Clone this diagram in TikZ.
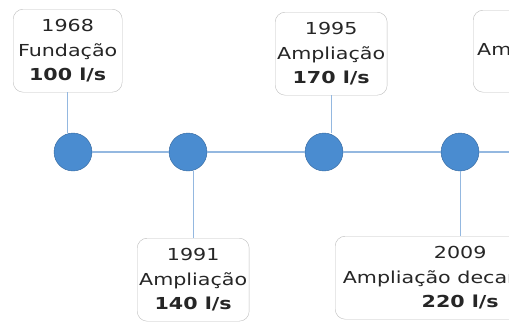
\documentclass[tikz,border=0pt]{standalone}
\usepackage{fontspec}
\setmainfont{DejaVu Sans}[FakeStretch=1.25]
\definecolor{dotblue}{HTML}{4A8CD0}
\definecolor{dotedge}{HTML}{35679C}
\definecolor{linkblue}{HTML}{94B8E0}
\definecolor{boxgray}{HTML}{BEBEBE}

\begin{document}
\begin{tikzpicture}[x=1pt,y=-1pt,
      every node/.style={font=\fontsize{16.5}{24.5}\selectfont,text=black!85},
      event/.style={rectangle,rounded corners=10pt,draw=boxgray,fill=white,
        align=center,minimum width=109pt,minimum height=83pt,inner sep=2pt},
      dot/.style={circle,fill=dotblue,draw=dotedge,minimum size=38pt,inner sep=0pt},
      link/.style={draw=linkblue,line width=1.1pt}]
    \useasboundingbox (0,0) rectangle (509,322);
    \clip (0,0) rectangle (509,322);

    % timeline dots
    \node[dot] (c1968) at (73,152) {};
    \node[dot] (c1991) at (188,152) {};
    \node[dot] (c1995) at (324,152) {};
    \node[dot] (c2009) at (460,152) {};
    \coordinate (tail) at (509,152);

    % events
    \node[event,anchor=north west] (e1968) at (13,9)
        {1968\\Fundação\\\textbf{100 l/s}};
    \node[event,anchor=north west] (e1991) at (137,238)
        {1991\\Ampliação\\\textbf{140 l/s}};
    \node[event,anchor=north west] (e1995) at (275,12)
        {1995\\Ampliação\\\textbf{170 l/s}};
    \node[event,anchor=north west,minimum width=250pt] (e2009) at (335,236)
        {2009\\Ampliação decantação\\\textbf{220 l/s}};
    \node[event,anchor=north west,align=left,text width=200pt,inner sep=4pt,
        minimum height=82pt] (enext) at (473,10) {Ampliação};

    % connectors
    \draw[link] (c1968) -- (c1991);
    \draw[link] (c1991) -- (c1995);
    \draw[link] (c1995) -- (c2009);
    \draw[link] (c2009) -- (tail);
    \draw[link] (e1968.south) -- (e1968.south |- c1968.north);
    \draw[link] (e1991.north) -- (e1991.north |- c1991.south);
    \draw[link] (e1995.south) -- (e1995.south |- c1995.north);
    \draw[link] (e2009.north) -- (e2009.north |- c2009.south);
\end{tikzpicture}
\end{document}
